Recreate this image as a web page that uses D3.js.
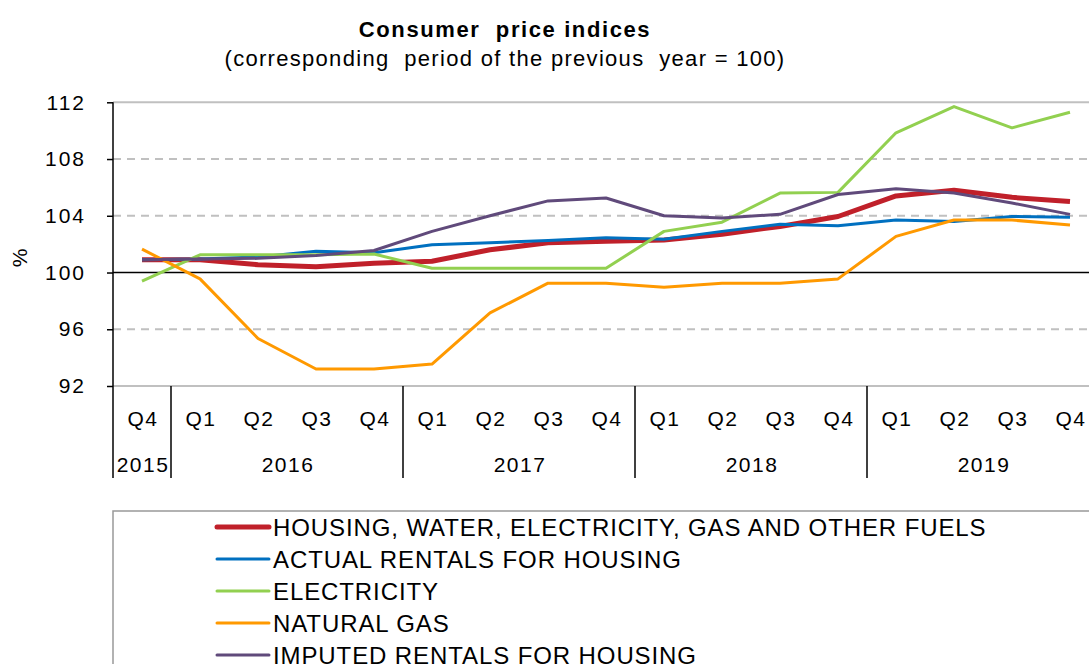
<!DOCTYPE html>
<html>
<head>
<meta charset="utf-8">
<script src="https://cdn.jsdelivr.net/npm/d3@7"></script>
<style>
  body { margin: 0; background: #fff; }
  svg { display: block; font-family: "Liberation Sans", Arial, sans-serif; }
</style>
</head>
<body>
<svg id="chart" width="1089" height="664"></svg>
<script>
// quarters, starting with Q4 2015
var quarters = ["Q4", "Q1", "Q2", "Q3", "Q4", "Q1", "Q2", "Q3", "Q4",
                "Q1", "Q2", "Q3", "Q4", "Q1", "Q2", "Q3", "Q4"];
var years = [
    {label: "2015", start: 0, end: 1},
    {label: "2016", start: 1, end: 5},
    {label: "2017", start: 5, end: 9},
    {label: "2018", start: 9, end: 13},
    {label: "2019", start: 13, end: 17}
];
var yTicks = [92, 96, 100, 104, 108, 112];

var housing   = [100.9, 100.9, 100.55, 100.4, 100.65, 100.8, 101.6, 102.1, 102.2,
                 102.3, 102.7, 103.25, 103.95, 105.4, 105.8, 105.3, 105.0];
var actual    = [100.9, 100.95, 101.1, 101.5, 101.4, 101.95, 102.1, 102.25, 102.45,
                 102.35, 102.9, 103.4, 103.3, 103.7, 103.6, 103.95, 103.9];
var electric  = [99.4, 101.25, 101.25, 101.25, 101.3, 100.3, 100.3, 100.3, 100.3,
                 102.9, 103.55, 105.6, 105.65, 109.85, 111.7, 110.2, 111.3];
var gas       = [101.65, 99.55, 95.35, 93.2, 93.2, 93.55, 97.15, 99.25, 99.25,
                 98.97, 99.25, 99.25, 99.55, 102.55, 103.7, 103.7, 103.35];
var imputed   = [100.9, 100.95, 101.0, 101.2, 101.55, 102.9, 104.0, 105.05, 105.25,
                 104.0, 103.85, 104.1, 105.5, 105.9, 105.6, 104.9, 104.1];

var series = [
    {name: "HOUSING, WATER, ELECTRICITY, GAS AND OTHER FUELS", values: housing, color: "#C0202A", width: 5},
    {name: "ACTUAL RENTALS FOR HOUSING", values: actual, color: "#0070C0", width: 3},
    {name: "ELECTRICITY", values: electric, color: "#92D050", width: 3},
    {name: "NATURAL GAS", values: gas, color: "#FF9900", width: 3},
    {name: "IMPUTED RENTALS FOR HOUSING", values: imputed, color: "#604A7B", width: 3}
];

var svg = d3.select("#chart");
var plotLeft = 113, plotTop = 102.3, plotBottom = 386, step = 58;

var x = d3.scaleBand()
    .domain(d3.range(quarters.length))
    .range([plotLeft, plotLeft + step * quarters.length])
    .paddingInner(0).paddingOuter(0);

var y = d3.scaleLinear().domain([92, 112]).range([plotBottom, plotTop]);

// title
svg.append("text")
    .attr("x", 505).attr("y", 37)
    .attr("text-anchor", "middle")
    .style("font-size", "22px").style("font-weight", "bold")
    .style("letter-spacing", "1.6px").style("white-space", "pre")
    .text("Consumer  price indices");
svg.append("text")
    .attr("x", 505).attr("y", 66)
    .attr("text-anchor", "middle")
    .style("font-size", "22px").style("letter-spacing", "1.3px")
    .style("white-space", "pre")
    .text("(corresponding  period of the previous  year = 100)");

// gridlines
svg.append("g").selectAll("line")
    .data(yTicks)
    .join("line")
    .attr("x1", plotLeft).attr("x2", 1089)
    .attr("y1", function(d) { return y(d); })
    .attr("y2", function(d) { return y(d); })
    .attr("stroke", function(d) { return d === 100 ? "#000" : "#c0c0c0"; })
    .attr("stroke-width", function(d) { return d === 100 ? 1.5 : 2; })
    .attr("stroke-dasharray", function(d) { return (d === 92 || d === 112 || d === 100) ? null : "8,6"; });

// y axis
var yAxis = svg.append("g")
    .attr("transform", "translate(" + plotLeft + ",0)")
    .call(d3.axisLeft(y).tickValues(yTicks).tickSize(6).tickPadding(21));
yAxis.select(".domain").remove();
yAxis.selectAll(".tick line").attr("stroke", "#000").attr("stroke-width", 1.5);
yAxis.selectAll(".tick text")
    .attr("fill", "#000")
    .style("font-size", "21px")
    .style("letter-spacing", "2px")
    .style("font-family", "'Liberation Sans', Arial, sans-serif");

svg.append("line")
    .attr("x1", plotLeft).attr("x2", plotLeft)
    .attr("y1", plotTop).attr("y2", 478)
    .attr("stroke", "#000").attr("stroke-width", 1.5);

svg.append("text")
    .attr("transform", "translate(27,258) rotate(-90)")
    .attr("text-anchor", "middle")
    .style("font-size", "21px")
    .text("%");

// category axis
svg.append("g").selectAll("text")
    .data(quarters)
    .join("text")
    .attr("x", function(d, i) { return x(i) + x.bandwidth() / 2 + 1; })
    .attr("y", 426)
    .attr("text-anchor", "middle")
    .style("font-size", "21px").style("letter-spacing", "1.5px")
    .text(function(d) { return d; });

svg.append("g").selectAll("line")
    .data(years.slice(1))
    .join("line")
    .attr("x1", function(d) { return x(d.start); })
    .attr("x2", function(d) { return x(d.start); })
    .attr("y1", plotBottom).attr("y2", 478)
    .attr("stroke", "#000").attr("stroke-width", 1.5);

svg.append("g").selectAll("text")
    .data(years)
    .join("text")
    .attr("x", function(d) { return (x(d.start) + x(d.end - 1) + x.bandwidth()) / 2 + 1; })
    .attr("y", 472)
    .attr("text-anchor", "middle")
    .style("font-size", "21px").style("letter-spacing", "1.5px")
    .text(function(d) { return d.label; });

// lines
var line = d3.line()
    .x(function(d, i) { return x(i) + x.bandwidth() / 2; })
    .y(function(d) { return y(d); });

svg.append("g").selectAll("path")
    .data(series)
    .join("path")
    .attr("d", function(d) { return line(d.values); })
    .attr("fill", "none")
    .attr("stroke", function(d) { return d.color; })
    .attr("stroke-width", function(d) { return d.width; })
    .attr("stroke-linejoin", "round");

// legend
svg.append("rect")
    .attr("x", plotLeft).attr("y", 511)
    .attr("width", 1000).attr("height", 200)
    .attr("fill", "none")
    .attr("stroke", "#999").attr("stroke-width", 1.5);

var legend = svg.append("g").selectAll("g")
    .data(series)
    .join("g")
    .attr("transform", function(d, i) { return "translate(217," + (527 + i * 32) + ")"; });
legend.append("line")
    .attr("x1", 0).attr("x2", 52)
    .attr("stroke", function(d) { return d.color; })
    .attr("stroke-width", function(d) { return d.width; })
    .attr("stroke-linecap", "round");
legend.append("text")
    .attr("x", 56).attr("y", 9)
    .style("font-size", "24px").style("letter-spacing", "0.9px")
    .text(function(d) { return d.name; });
</script>
</body>
</html>
